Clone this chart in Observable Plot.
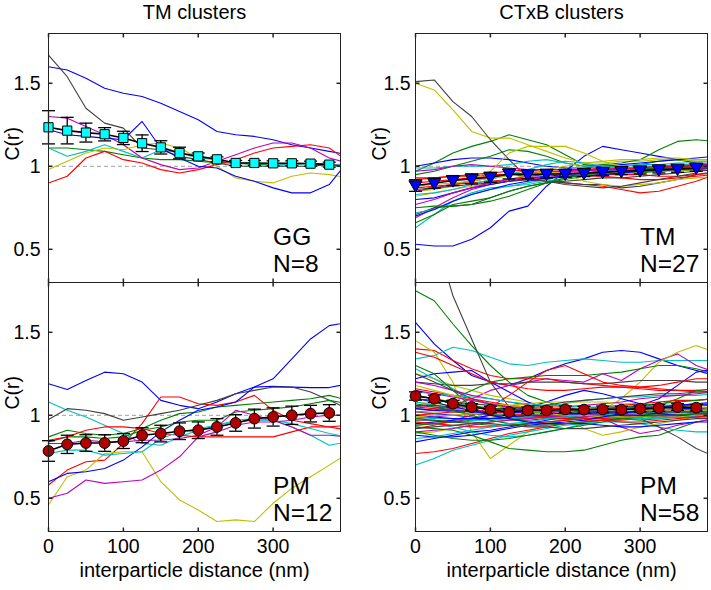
<!DOCTYPE html>
<html><head><meta charset="utf-8">
<script src="https://cdn.jsdelivr.net/npm/d3@7"></script>
<script src="https://cdn.jsdelivr.net/npm/@observablehq/plot@0.6"></script>
<style>
body{margin:0;background:#fff;}
#chart{position:relative;width:711px;height:590px;overflow:hidden;background:#fff;}
#chart svg{position:absolute;}
</style></head><body><div id="chart"></div>
<script>
// ---------- data ----------
const xs = [0,25,50,75,100,125,150,175,200,225,250,275,300,325,350,375,400];
const meanXs = [0,25,50,75,100,125,150,175,200,225,250,275,300,325,350,375];
const xTicks = [0,100,200,300];
const yTicks = [0.5,1,1.5];
const matlabColors = ["#0000ff","#008000","#ff0000","#00bfbf","#bf00bf","#bfbf00","#404040"];
const columnTitles = ["TM clusters","CTxB clusters"];
const panelLabels = [["GG","N=8"],["TM","N=27"],["PM","N=12"],["PM","N=58"]];
const xLabel = "interparticle distance (nm)";
const yLabel = "C(r)";

// TM clusters, GG (N=8)
const ggLines = [
 [1.60,1.58,1.53,1.47,1.44,1.42,1.38,1.33,1.28,1.21,1.19,1.18,1.16,1.13,1.11,1.09,1.07],
 [1.11,1.11,1.10,1.09,1.07,1.05,1.04,1.04,1.03,1.02,1.02,1.01,1.01,1.01,1.02,1.01,1.01],
 [0.90,0.94,1.05,1.09,1.04,1.02,0.98,0.96,0.98,1.01,1.04,1.08,1.11,1.12,1.13,1.11,1.03],
 [1.11,1.06,1.09,1.13,1.09,1.05,1.10,1.08,1.05,1.04,1.02,1.02,1.01,1.01,1.02,1.01,1.01],
 [1.30,1.29,1.24,1.19,1.13,1.05,1.01,0.98,0.99,1.03,1.07,1.11,1.14,1.14,1.11,1.05,1.02],
 [0.98,1.03,1.08,1.11,1.10,1.13,1.14,1.11,1.05,1.00,0.93,0.91,0.90,0.94,0.96,0.95,0.93],
 [1.67,1.54,1.35,1.26,1.23,1.11,1.10,1.06,1.04,1.02,1.00,1.00,1.00,1.00,1.00,1.01,1.00],
 [1.22,1.19,1.18,1.17,1.16,1.27,1.11,1.05,1.00,0.99,0.94,0.91,0.87,0.84,0.84,0.89,1.03]
];
const ggMean = [1.235,1.215,1.203,1.193,1.171,1.139,1.114,1.080,1.060,1.042,1.020,1.020,1.018,1.018,1.016,1.010];
const ggErr  = [0.10,0.08,0.057,0.04,0.04,0.05,0.04,0.035,0.02,0.015,0.015,0.015,0.015,0.015,0.015,0.015];

// CTxB clusters, TM (N=27)
const tmLines = [
 [0.53,0.52,0.52,0.56,0.63,0.73,0.76,0.88,0.97,1.06,1.12,1.10,1.08,1.06,1.04,1.02,1.01],
 [0.97,1.02,1.08,1.12,1.15,1.19,1.16,1.13,1.07,1.01,1.00,1.00,1.01,1.03,1.04,1.03,1.03],
 [0.93,0.93,0.94,0.94,0.95,0.95,0.94,0.92,0.90,0.89,0.88,0.86,0.84,0.85,0.88,0.91,0.95],
 [0.63,0.71,0.79,0.84,0.87,0.88,0.90,0.92,0.94,0.96,0.97,0.98,0.98,0.99,0.99,1.00,1.00],
 [0.69,0.75,0.81,0.86,0.89,0.91,0.92,0.93,0.94,0.95,0.96,0.96,0.97,0.97,0.98,0.98,0.99],
 [1.50,1.46,1.34,1.21,1.17,1.17,1.13,1.09,1.05,1.02,1.02,1.03,1.03,1.04,1.04,1.03,1.03],
 [1.51,1.52,1.39,1.30,1.16,1.04,0.93,0.91,0.90,0.89,0.89,0.87,0.88,0.90,0.92,0.95,0.97],
 [1.00,1.02,1.04,1.05,1.05,1.04,1.02,1.00,0.99,0.99,1.00,1.01,1.02,1.03,1.04,1.05,1.06],
 [0.95,0.97,1.00,1.03,1.06,1.10,1.09,1.06,1.02,1.00,1.01,1.02,1.04,1.10,1.15,1.16,1.15],
 [0.90,0.91,0.92,0.93,0.94,0.95,0.96,0.96,0.96,0.96,0.95,0.95,0.95,0.94,0.94,0.95,0.96],
 [0.99,0.99,1.00,1.00,1.00,1.01,1.03,1.04,1.02,1.00,0.99,0.99,1.00,1.00,1.01,1.01,1.01],
 [0.97,0.98,1.00,1.01,1.00,0.99,0.98,0.97,0.97,0.97,0.98,0.99,0.99,1.00,1.00,1.01,1.01],
 [0.85,0.86,0.88,0.92,0.97,1.08,1.12,1.12,1.12,1.08,1.03,1.00,0.98,0.97,0.97,0.98,0.99],
 [0.71,0.75,0.76,0.77,0.81,0.85,0.88,0.90,0.91,0.92,0.93,0.93,0.94,0.95,0.96,0.97,0.98],
 [0.80,0.81,0.84,0.87,0.89,0.91,0.93,0.94,0.95,0.96,0.97,0.97,0.98,0.99,1.00,1.00,1.01],
 [0.66,0.71,0.77,0.79,0.81,0.85,0.88,0.90,0.92,0.94,0.95,0.96,0.96,0.97,0.98,0.98,0.99],
 [0.87,0.88,0.89,0.90,0.91,0.92,0.93,0.93,0.94,0.94,0.94,0.93,0.92,0.92,0.93,0.94,0.95],
 [0.72,0.74,0.79,0.83,0.86,0.88,0.89,0.91,0.93,0.95,0.96,0.97,0.97,0.98,0.99,0.99,1.00],
 [0.85,0.87,0.89,0.91,0.93,0.95,0.96,0.97,0.97,0.98,0.98,0.98,0.99,0.99,0.99,1.00,1.00],
 [0.82,0.84,0.86,0.88,0.90,0.92,0.95,0.97,0.95,0.91,0.89,0.88,0.89,0.90,0.92,0.93,0.94],
 [0.86,0.87,0.88,0.89,0.90,0.91,0.92,0.91,0.89,0.88,0.87,0.88,0.90,0.92,0.94,0.96,1.03],
 [0.70,0.74,0.79,0.83,0.86,0.89,0.91,0.93,0.94,0.94,0.95,0.96,0.97,0.98,0.98,0.99,0.99],
 [0.75,0.76,0.76,0.77,0.79,0.82,0.86,0.90,0.93,0.95,0.96,0.97,0.98,0.99,0.99,1.00,1.00],
 [0.92,0.93,0.94,0.95,0.96,0.97,0.98,0.98,0.98,0.98,0.99,0.99,0.99,1.00,1.00,1.00,1.01],
 [0.83,0.84,0.86,0.89,0.92,0.95,0.98,1.01,1.03,1.02,1.00,1.00,1.01,1.01,1.02,1.02,1.02],
 [0.77,0.80,0.84,0.87,0.90,0.92,0.94,0.95,0.96,0.96,0.97,0.97,0.98,0.98,0.98,0.99,0.99],
 [0.88,0.89,0.90,0.91,0.93,0.94,0.96,0.98,1.00,1.02,1.03,1.04,1.04,1.05,1.05,1.04,1.04]
];
const tmMean = [0.884,0.898,0.914,0.924,0.934,0.954,0.950,0.954,0.954,0.958,0.964,0.970,0.974,0.980,0.984,0.990];
const tmErr  = [0.035,0.03,0.03,0.03,0.03,0.03,0.025,0.025,0.02,0.02,0.02,0.02,0.02,0.02,0.02,0.02];

// TM clusters, PM (N=12)
const pmTmLines = [
 [1.19,1.155,1.21,1.26,1.25,1.20,1.09,1.06,1.04,1.08,1.13,1.17,1.175,1.17,1.167,1.167,1.19],
 [0.87,0.91,0.89,0.88,0.89,0.92,0.97,1.01,1.02,1.05,1.06,1.07,1.08,1.09,1.10,1.12,1.09],
 [0.58,0.67,0.72,0.73,0.83,0.95,1.11,1.11,1.07,1.06,1.08,1.12,1.03,0.97,0.95,0.93,0.91],
 [1.08,1.03,0.99,0.94,0.89,0.83,0.82,0.87,0.91,0.94,0.97,0.98,0.97,0.93,0.88,0.82,0.84],
 [0.83,0.83,0.85,0.84,0.84,0.85,0.85,0.86,0.88,0.93,1.03,1.00,0.97,0.93,0.88,0.88,0.87],
 [0.46,0.63,0.67,0.77,0.78,0.78,0.60,0.49,0.43,0.36,0.37,0.36,0.47,0.56,0.63,0.70,0.77],
 [0.975,1.04,1.03,1.01,0.97,0.99,1.01,1.03,1.06,1.09,1.13,1.15,1.17,1.17,1.14,1.09,1.04],
 [0.60,0.65,0.66,0.68,0.73,0.81,0.90,0.97,1.03,1.05,1.08,1.17,1.22,1.34,1.46,1.54,1.56],
 [0.84,0.87,0.87,0.86,0.87,0.91,0.93,0.96,0.97,0.97,1.02,1.03,1.04,1.05,1.07,1.09,1.07],
 [0.85,0.87,0.91,0.93,0.93,0.92,0.89,0.88,0.87,0.87,0.87,0.87,0.87,0.90,0.93,0.93,0.94],
 [0.77,0.79,0.79,0.76,0.77,0.78,0.86,0.90,0.92,0.94,0.96,0.97,0.97,0.95,0.92,0.89,0.87],
 [0.50,0.53,0.61,0.59,0.60,0.61,0.67,0.75,0.87,0.90,0.94,0.96,0.96,0.97,0.99,1.00,1.00]
];
const pmTmMean = [0.785,0.825,0.833,0.833,0.845,0.880,0.890,0.904,0.910,0.930,0.954,0.980,0.990,1.000,1.010,1.014];
const pmTmErr  = [0.062,0.055,0.05,0.05,0.045,0.045,0.05,0.05,0.05,0.05,0.05,0.057,0.055,0.055,0.05,0.05];

// CTxB clusters, PM (N=58)
const pmCtLines = [
 [1.56,1.43,1.33,1.24,1.20,1.18,1.22,1.27,1.31,1.34,1.38,1.39,1.38,1.34,1.30,1.27,1.24],
 [1.75,1.69,1.55,1.42,1.30,1.20,1.12,1.08,1.05,1.03,1.02,1.02,1.03,1.04,1.05,1.06,1.07],
 [1.40,1.39,1.33,1.28,1.24,1.22,1.22,1.22,1.20,1.19,1.18,1.17,1.17,1.16,1.15,1.15,1.14],
 [1.34,1.36,1.41,1.39,1.35,1.31,1.30,1.32,1.33,1.34,1.33,1.32,1.32,1.33,1.33,1.33,1.33],
 [1.02,1.03,1.06,1.10,1.15,1.18,1.20,1.22,1.21,1.20,1.25,1.21,1.28,1.33,1.37,1.30,1.26],
 [1.45,1.38,1.20,0.90,0.74,0.82,0.90,0.95,0.97,0.99,1.00,1.01,1.02,1.02,1.02,1.02,1.02],
 [2.50,2.10,1.72,1.46,1.20,1.05,1.00,0.98,0.98,0.99,1.00,1.01,1.02,1.03,1.03,1.04,1.04],
 [0.84,0.86,0.88,0.90,0.91,0.93,0.95,0.97,0.99,1.00,1.01,1.02,1.02,1.03,1.03,1.04,1.04],
 [0.93,0.92,0.91,0.88,0.84,0.80,0.79,0.78,0.78,0.79,0.82,0.85,0.87,0.88,0.92,0.96,0.98],
 [0.77,0.78,0.80,0.83,0.86,0.89,0.91,0.93,0.95,0.96,0.97,0.97,0.98,0.99,1.00,1.01,1.01],
 [0.70,0.74,0.79,0.82,0.85,0.88,0.90,0.92,0.94,0.95,0.96,0.96,0.95,0.93,0.91,0.90,0.90],
 [1.12,1.10,1.07,1.04,1.01,0.98,0.96,0.95,0.95,0.96,0.97,0.98,0.99,1.00,1.01,1.01,1.02],
 [1.25,1.22,1.18,1.15,1.12,1.10,1.08,1.05,1.02,1.00,1.03,1.10,1.20,1.32,1.38,1.42,1.38],
 [1.20,1.19,1.18,1.18,1.19,1.19,1.20,1.20,1.20,1.19,1.19,1.20,1.21,1.21,1.21,1.20,1.20],
 [1.22,1.25,1.26,1.27,1.20,1.14,1.08,1.04,1.02,1.00,0.99,1.00,1.02,1.04,1.05,1.06,1.07],
 [1.05,1.07,1.10,1.15,1.20,1.22,1.23,1.24,1.24,1.24,1.25,1.26,1.28,1.30,1.30,1.28,1.25],
 [1.38,1.35,1.30,1.25,1.20,1.18,1.16,1.15,1.15,1.16,1.17,1.17,1.16,1.15,1.15,1.14,1.14],
 [1.28,1.22,1.16,1.10,1.06,1.04,1.04,1.05,1.07,1.09,1.10,1.11,1.11,1.12,1.12,1.12,1.13],
 [0.94,0.95,0.96,0.98,1.00,1.01,1.02,1.02,1.01,1.00,0.98,0.93,0.89,0.91,0.94,0.96,0.98],
 [0.95,0.96,0.97,0.98,0.99,1.00,1.01,1.02,1.03,1.04,1.05,1.05,1.05,1.04,1.04,1.04,1.04],
 [1.10,1.09,1.08,1.07,1.06,1.05,1.04,1.03,1.03,1.02,1.01,1.00,0.98,0.93,0.87,0.80,0.75],
 [1.02,1.01,1.00,0.99,0.98,0.98,0.99,1.00,1.01,1.02,1.03,1.04,1.06,1.10,1.18,1.26,1.28],
 [0.94,0.95,0.96,0.97,0.98,0.99,1.00,1.00,1.00,1.00,0.99,0.98,0.97,0.98,0.99,1.00,1.01],
 [0.92,0.94,0.97,1.00,1.05,1.12,1.20,1.27,1.30,1.25,1.20,1.18,1.17,1.18,1.20,1.22,1.22],
 [0.96,0.95,0.93,0.90,0.88,0.87,0.88,0.90,0.92,0.95,0.97,0.98,0.98,0.98,0.99,0.99,1.00],
 [1.20,1.18,1.15,1.12,1.10,1.08,1.06,1.05,1.05,1.06,1.07,1.08,1.10,1.11,1.12,1.13,1.14],
 [1.08,1.07,1.06,1.05,1.04,1.03,1.02,1.02,0.98,0.92,0.88,0.90,0.93,0.95,0.97,0.99,1.00],
 [0.92,0.93,0.94,0.95,0.96,0.97,0.97,0.98,0.98,0.99,0.99,1.00,1.00,1.00,1.01,1.01,1.01],
 [0.95,0.96,0.97,0.98,1.00,1.02,1.05,1.08,1.12,1.15,1.13,1.10,1.07,1.05,1.04,1.04,1.05],
 [1.30,1.25,1.15,1.05,1.00,0.98,0.98,0.99,1.00,1.01,1.02,1.03,1.04,1.06,1.10,1.15,1.16],
 [1.05,1.04,1.03,1.02,1.01,1.00,1.00,1.00,1.00,1.01,1.01,1.02,1.02,1.02,1.03,1.03,1.03],
 [1.08,1.06,1.04,1.02,1.01,1.00,1.00,1.00,1.01,1.02,1.03,1.04,1.05,1.06,1.06,1.07,1.07],
 [0.98,0.99,1.00,1.01,1.02,1.02,1.03,1.03,1.03,1.03,1.02,1.02,1.02,1.01,1.01,1.01,1.01],
 [0.89,0.90,0.92,0.94,0.96,0.97,0.98,0.99,0.99,1.00,1.00,1.00,1.00,1.01,1.01,1.01,1.01],
 [1.04,1.03,1.02,1.01,1.00,1.00,0.99,0.99,0.99,1.00,1.00,1.01,1.01,1.02,1.02,1.02,1.02],
 [0.88,0.87,0.87,0.88,0.90,0.92,0.94,0.95,0.95,0.95,0.94,0.93,0.93,0.94,0.95,0.96,0.96],
 [0.98,0.97,0.96,0.95,0.94,0.94,0.95,0.96,0.97,0.98,0.98,0.99,1.00,1.01,1.02,1.02,1.02],
 [0.96,0.95,0.94,0.93,0.93,0.94,0.95,0.96,0.97,0.98,0.98,0.99,0.99,1.00,1.00,1.00,1.00],
 [0.99,0.98,0.98,0.97,0.97,0.98,0.99,1.00,1.00,1.00,1.01,1.01,1.02,1.02,1.02,1.03,1.03],
 [1.06,1.05,1.04,1.03,1.02,1.01,1.00,0.99,0.99,0.99,1.00,1.00,1.01,1.02,1.02,1.03,1.03],
 [1.02,1.02,1.03,1.04,1.05,1.06,1.07,1.08,1.08,1.08,1.08,1.07,1.07,1.06,1.06,1.05,1.05],
 [1.25,1.20,1.15,1.10,1.07,1.05,1.05,1.06,1.08,1.09,1.10,1.11,1.12,1.13,1.13,1.14,1.14],
 [1.04,1.03,1.03,1.02,1.02,1.02,1.01,1.01,1.01,1.00,1.00,1.00,1.00,0.99,0.99,0.99,0.99],
 [1.07,1.05,1.03,1.00,0.97,0.95,0.94,0.94,0.95,0.96,0.97,0.98,0.99,1.00,1.00,1.01,1.01],
 [1.16,1.14,1.12,1.10,1.08,1.06,1.05,1.04,1.04,1.04,1.05,1.06,1.07,1.08,1.09,1.09,1.10],
 [1.14,1.13,1.12,1.11,1.10,1.08,1.07,1.06,1.06,1.05,1.05,1.05,1.04,1.04,1.03,1.03,1.03],
 [0.90,0.91,0.92,0.94,0.96,0.97,0.98,0.99,1.00,1.00,1.01,1.01,1.01,1.02,1.02,1.02,1.02],
 [1.18,1.15,1.12,1.09,1.07,1.06,1.05,1.05,1.05,1.04,1.04,1.04,1.03,1.03,1.03,1.03,1.03],
 [0.97,0.97,0.96,0.96,0.95,0.94,0.93,0.93,0.92,0.92,0.93,0.94,0.95,0.96,0.97,0.98,0.98],
 [1.00,0.99,0.98,0.98,0.98,0.99,1.00,1.00,1.01,1.01,1.02,1.02,1.01,1.01,1.00,1.00,1.00],
 [0.90,0.88,0.86,0.85,0.85,0.86,0.88,0.90,0.92,0.94,0.96,0.98,0.99,1.00,1.00,1.01,1.02],
 [1.00,1.01,1.02,1.03,1.02,1.01,1.00,0.99,0.98,0.97,0.97,0.96,0.96,0.97,0.98,0.99,1.00],
 [0.86,0.87,0.89,0.91,0.93,0.95,0.96,0.98,0.99,1.00,1.00,1.01,1.01,1.02,1.02,1.02,1.02],
 [1.15,1.13,1.11,1.09,1.07,1.05,1.04,1.03,1.03,1.03,1.04,1.04,1.05,1.05,1.06,1.06,1.06],
 [0.99,1.00,1.00,1.01,1.01,1.01,1.01,1.01,1.00,1.00,0.99,0.99,0.99,0.99,0.99,1.00,1.00],
 [1.06,1.06,1.05,1.05,1.04,1.04,1.03,1.03,1.02,1.02,1.02,1.02,1.02,1.02,1.02,1.02,1.02],
 [1.10,1.08,1.05,1.03,1.00,0.98,0.96,0.95,0.96,0.97,0.99,1.01,1.03,1.05,1.06,1.07,1.08],
 [1.12,1.10,1.08,1.06,1.04,1.03,1.02,1.02,1.03,1.03,1.04,1.05,1.06,1.07,1.08,1.09,1.10]
];
const pmCtMean = [1.116,1.100,1.070,1.050,1.034,1.020,1.030,1.030,1.036,1.034,1.036,1.034,1.040,1.044,1.050,1.046];
const pmCtErr  = [0.025,0.022,0.02,0.02,0.02,0.02,0.02,0.02,0.02,0.02,0.02,0.02,0.02,0.02,0.02,0.02];

// ---------- drawing ----------
const FONT = "'Liberation Sans', Arial, Helvetica, sans-serif";
const mk = (f) => ({draw(ctx){ f(ctx); }});
const triDown = {draw(c, size){ const r = Math.sqrt(size/Math.PI); c.moveTo(-1.1*r,-0.8*r); c.lineTo(1.1*r,-0.8*r); c.lineTo(0,1.1*r); c.closePath(); }};
const capSym = mk(c => { c.moveTo(-6.5,0); c.lineTo(6.5,0); });
const tickLeft = mk(c => { c.moveTo(0,0); c.lineTo(4,0); });
const tickRight = mk(c => { c.moveTo(0,0); c.lineTo(-4,0); });
const tickBottom = mk(c => { c.moveTo(0,0); c.lineTo(0,-4); });
const tickTop = mk(c => { c.moveTo(0,0); c.lineTo(0,4); });
const X0 = 0, X1 = 390, Y0 = 0.3, Y1 = 1.8;

function panel(o) {
  const lineData = o.lines.flatMap((vals, i) => vals.map((v, j) => ({id: i, x: xs[j], y: v, c: matlabColors[i % 7]})));
  const meanData = o.mean.map((m, j) => ({x: meanXs[j], m, e: o.err[j]}));
  const labelData = [{t: o.labels[0], y: 0.527}, {t: o.labels[1], y: 0.365}];
  const marks = [
    Plot.ruleY([1], {stroke: "#a0a0a0", strokeDasharray: "4,3", strokeWidth: 1}),
    Plot.line(lineData, {x: "x", y: "y", z: "id", stroke: "c", strokeWidth: 1.1, clip: true}),
    Plot.ruleX(meanData, {x: "x", y1: d => d.m - d.e, y2: d => d.m + d.e, stroke: "#000", strokeWidth: 1.3}),
    Plot.dot(meanData, {x: "x", y: d => d.m - d.e, symbol: capSym, fill: "none", stroke: "#000", strokeWidth: 1.3}),
    Plot.dot(meanData, {x: "x", y: d => d.m + d.e, symbol: capSym, fill: "none", stroke: "#000", strokeWidth: 1.3}),
    Plot.line(meanData, {x: "x", y: "m", stroke: "#000", strokeWidth: 1.6}),
    Plot.dot(meanData, {x: "x", y: "m", symbol: o.symbol, r: o.r, fill: o.fill, stroke: "#000", strokeWidth: 1}),
    Plot.frame({stroke: "#222", strokeWidth: 1}),
    Plot.dot(yTicks, {x: () => X0, y: d => d, symbol: tickLeft, fill: "none", stroke: "#222"}),
    Plot.dot(yTicks, {x: () => X1, y: d => d, symbol: tickRight, fill: "none", stroke: "#222"}),
    Plot.dot(xTicks, {x: d => d, y: () => Y0, symbol: tickBottom, fill: "none", stroke: "#222"}),
    Plot.dot(xTicks, {x: d => d, y: () => Y1, symbol: tickTop, fill: "none", stroke: "#222"}),
    Plot.axisY(yTicks, {tickSize: 0, tickPadding: o.yPad, label: null, tickFormat: d => String(d)}),
    Plot.text([yLabel], {frameAnchor: "left", rotate: -90, dx: -35.5, dy: 2.5}),
    Plot.text(labelData, {x: () => 300, y: "y", text: "t", textAnchor: "start", lineAnchor: "bottom", fontSize: 24.5})
  ];
  if (o.title) marks.push(Plot.text([o.title], {frameAnchor: "top", dy: -14.7, lineAnchor: "bottom", fontSize: 20}));
  if (o.bottom) {
    marks.push(Plot.axisX(xTicks, {tickSize: 0, tickPadding: 8, label: null, tickFormat: d => String(d)}));
    marks.push(Plot.text([xLabel], {frameAnchor: "bottom", dy: 45.7, lineAnchor: "bottom", fontSize: 20}));
  }
  const svg = Plot.plot({
    width: o.width, height: o.height,
    marginLeft: o.ml, marginRight: o.mr, marginTop: o.mt, marginBottom: o.mb,
    x: {domain: [X0, X1], axis: null},
    y: {domain: [Y0, Y1], axis: null},
    color: {type: "identity"},
    style: {fontFamily: FONT, fontSize: "19.5px", background: "transparent", overflow: "visible", color: "#000"},
    marks
  });
  svg.style.left = o.left + "px";
  svg.style.top = o.top + "px";
  document.getElementById("chart").appendChild(svg);
}

panel({lines: ggLines, mean: ggMean, err: ggErr, symbol: "square", r: 5.2, fill: "#00ffff",
  labels: panelLabels[0], title: columnTitles[0], bottom: false, yPad: 8,
  left: 0, top: 0, width: 355, height: 300, ml: 48, mr: 15, mt: 33, mb: 18});
panel({lines: tmLines, mean: tmMean, err: tmErr, symbol: triDown, r: 6, fill: "#0000ff",
  labels: panelLabels[1], title: columnTitles[1], bottom: false, yPad: 5,
  left: 355, top: 0, width: 356, height: 300, ml: 60, mr: 4, mt: 33, mb: 18});
panel({lines: pmTmLines, mean: pmTmMean, err: pmTmErr, symbol: "circle", r: 5.4, fill: "#b00000",
  labels: panelLabels[2], title: null, bottom: true, yPad: 8,
  left: 0, top: 250, width: 355, height: 340, ml: 48, mr: 15, mt: 32, mb: 59});
panel({lines: pmCtLines, mean: pmCtMean, err: pmCtErr, symbol: "circle", r: 5.4, fill: "#b00000",
  labels: panelLabels[3], title: null, bottom: true, yPad: 5,
  left: 355, top: 250, width: 356, height: 340, ml: 60, mr: 4, mt: 32, mb: 59});
</script></body></html>
